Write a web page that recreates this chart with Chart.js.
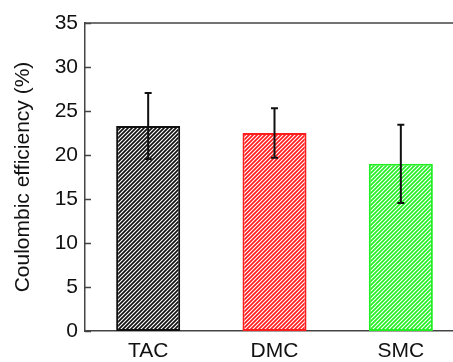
<!DOCTYPE html>
<html>
<head>
<meta charset="utf-8">
<script src="https://cdn.jsdelivr.net/npm/chart.js@4"></script>
<style>
  html, body { margin: 0; padding: 0; background: #fff; overflow: hidden; }
  #wrap { width: 464px; height: 362px; }
</style>
</head>
<body>
<div id="wrap"><canvas id="myChart" width="464" height="362"></canvas></div>
<script>
// values
var labels = ['TAC', 'DMC', 'SMC'];
var values = [23.3, 22.5, 19.0];
var errors = [3.75, 2.8, 4.45];
var colors = ['#111111', '#ff1c1c', '#22ee22'];
var yTicks = [0, 5, 10, 15, 20, 25, 30, 35];

// striped fill like the original hatch
function makeHatch(color) {
    var c = document.createElement('canvas');
    c.width = 4;
    c.height = 4;
    var g = c.getContext('2d');
    g.fillStyle = '#ffffff';
    g.fillRect(0, 0, 4, 4);
    g.strokeStyle = color;
    g.lineWidth = 1.7;
    g.beginPath();
    g.moveTo(-1, 5); g.lineTo(5, -1);
    g.moveTo(-3, 3); g.lineTo(3, -3);
    g.moveTo(1, 7); g.lineTo(7, 1);
    g.stroke();
    return g.createPattern(c, 'repeat');
}

var fills = colors.map(makeHatch);

// error bars, top frame line and inward ticks
var extrasPlugin = {
    id: 'extras',
    afterDatasetsDraw: function(chart) {
        var ctx = chart.ctx;
        var y = chart.scales.y;
        var area = chart.chartArea;
        var meta = chart.getDatasetMeta(0);
        ctx.save();

        ctx.strokeStyle = '#444';
        ctx.lineWidth = 1.5;
        ctx.beginPath();
        ctx.moveTo(area.left, area.top);
        ctx.lineTo(area.right + 5, area.top);
        yTicks.forEach(function(t) {
            var py = Math.round(y.getPixelForValue(t)) + 0.5;
            ctx.moveTo(area.left, py);
            ctx.lineTo(area.left + 6, py);
        });
        ctx.stroke();

        ctx.strokeStyle = '#111';
        ctx.lineWidth = 2;
        meta.data.forEach(function(bar, i) {
            var top = y.getPixelForValue(values[i] + errors[i]);
            var bot = y.getPixelForValue(values[i] - errors[i]);
            ctx.beginPath();
            ctx.moveTo(bar.x, top);
            ctx.lineTo(bar.x, bot);
            ctx.moveTo(bar.x - 3.5, top);
            ctx.lineTo(bar.x + 3.5, top);
            ctx.moveTo(bar.x - 3.5, bot);
            ctx.lineTo(bar.x + 3.5, bot);
            ctx.stroke();
        });
        ctx.restore();
    }
};

var ctx = document.getElementById('myChart').getContext('2d');
var myChart = new Chart(ctx, {
    type: 'bar',
    data: {
        labels: labels,
        datasets: [{
            data: values,
            backgroundColor: fills,
            borderColor: colors,
            borderWidth: 2,
            borderSkipped: false,
            categoryPercentage: 1,
            barPercentage: 0.507
        }]
    },
    options: {
        responsive: false,
        animation: false,
        layout: { padding: { top: 23, right: 0, left: 0, bottom: 0 } },
        plugins: {
            legend: { display: false },
            tooltip: { enabled: false }
        },
        scales: {
            x: {
                grid: { display: false, drawTicks: false },
                border: { display: true, color: '#444', width: 1.5 },
                ticks: {
                    color: '#111',
                    padding: 8,
                    font: { family: 'Liberation Sans', size: 21 }
                },
                afterFit: function(s) { s.height = 31; }
            },
            y: {
                min: 0,
                max: 35,
                grid: { display: false, drawTicks: false },
                border: { display: true, color: '#444', width: 1.5 },
                ticks: {
                    stepSize: 5,
                    color: '#111',
                    padding: 7,
                    font: { family: 'Liberation Sans', size: 21 }
                },
                title: {
                    display: true,
                    text: 'Coulombic efficiency (%)',
                    color: '#111',
                    padding: { top: 11, bottom: 4 },
                    font: { family: 'Liberation Sans', size: 21 }
                },
                afterFit: function(s) { s.width = 85; }
            }
        }
    },
    plugins: [extrasPlugin]
});
</script>
</body>
</html>
